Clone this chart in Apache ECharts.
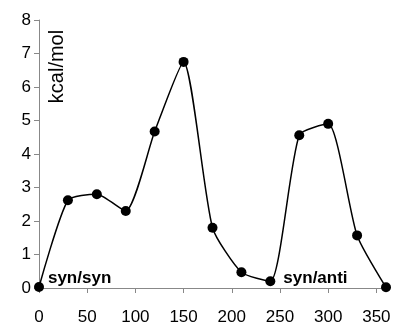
<!DOCTYPE html>
<html><head><meta charset="utf-8">
<script src="https://cdn.jsdelivr.net/npm/echarts@6/dist/echarts.min.js"></script>
<style>html,body{margin:0;padding:0;background:#fff}#c{width:395px;height:326px}</style>
</head><body><div id="c"></div>
<script>
const angles = [0, 30, 60, 90, 120, 150, 180, 210, 240, 270, 300, 330, 360];
const energies = [0.03, 2.62, 2.8, 2.3, 4.67, 6.75, 1.8, 0.47, 0.2, 4.56, 4.9, 1.57, 0.02];
const xTicks = [0, 50, 100, 150, 200, 250, 300, 350];
const yTicks = [0, 1, 2, 3, 4, 5, 6, 7, 8];
const yTitle = 'kcal/mol';
const notes = [{text: 'syn/syn', x: 9.3, y: 0.3}, {text: 'syn/anti', x: 253.5, y: 0.3}];

const chart = echarts.init(document.getElementById('c'), null, {renderer: 'canvas'});
const font = 'Liberation Sans, Arial, sans-serif';
chart.setOption({
  animation: false,
  grid: {left: 39, right: 9, top: 20, bottom: 38},
  xAxis: {
    type: 'value', min: 0, max: 360,
    splitLine: {show: false},
    axisLine: {lineStyle: {color: '#888', width: 1}},
    axisTick: {length: 5, lineStyle: {color: '#888'}, customValues: xTicks},
    axisLabel: {customValues: xTicks, color: '#000', fontSize: 17, fontFamily: font, margin: 21}
  },
  yAxis: {
    type: 'value', min: 0, max: 8, interval: 1,
    splitLine: {show: false},
    axisLine: {show: true, lineStyle: {color: '#888', width: 1}},
    axisTick: {show: true, length: 5, lineStyle: {color: '#888'}, customValues: yTicks},
    axisLabel: {customValues: yTicks, color: '#000', fontSize: 17, fontFamily: font, margin: 8}
  },
  series: [{
    type: 'line',
    data: angles.map((a, i) => [a, energies[i]]),
    smooth: 0.2,
    smoothConstraint: false,
    symbol: 'circle', symbolSize: 10,
    itemStyle: {color: '#000'},
    lineStyle: {color: '#000', width: 1.5},
    markPoint: {
      symbol: 'circle', symbolSize: 0,
      label: {show: true, position: 'right', distance: 0, color: '#000', fontWeight: 'bold', fontSize: 17, fontFamily: font, formatter: p => p.name},
      data: notes.map(n => ({name: n.text, coord: [n.x, n.y]}))
    }
  }],
  graphic: [{
    type: 'text', x: 57.5, y: 66.5, rotation: Math.PI / 2,
    style: {text: yTitle, fill: '#000', fontSize: 20, fontFamily: font, align: 'center', verticalAlign: 'middle'}
  }]
});
</script></body></html>
